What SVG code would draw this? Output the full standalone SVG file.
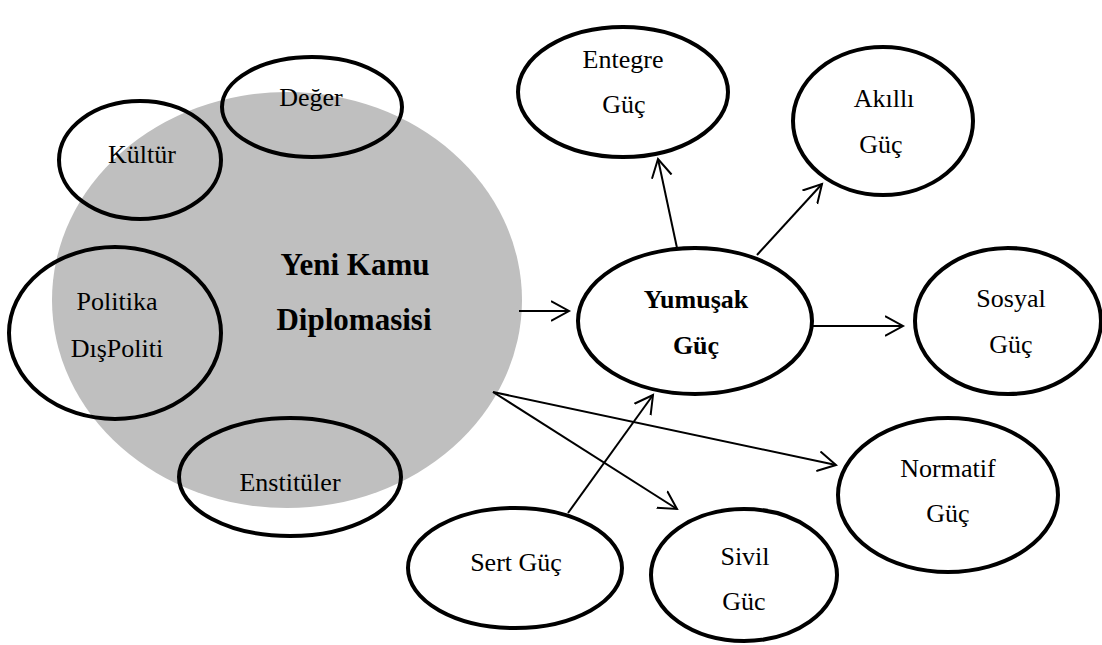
<svg xmlns="http://www.w3.org/2000/svg" width="1102" height="645" viewBox="0 0 1102 645">
<style>
.n{fill:none;stroke:#000;stroke-width:4}
.c line{stroke:#000;stroke-width:2;marker-end:url(#a)}
</style>
<defs>
<marker id="a" markerWidth="22" markerHeight="24" refX="18" refY="11" orient="auto" markerUnits="userSpaceOnUse">
<path d="M0,1 L18,11 L0,21" fill="none" stroke="#000" stroke-width="2"/>
</marker>
</defs>
<rect width="1102" height="645" fill="#fff"/>
<g font-family="Liberation Serif, Times New Roman, serif" font-size="26" text-anchor="middle" fill="#000">
<g id="yeni-kamu">
<ellipse cx="287" cy="300" rx="235" ry="208" fill="#bfbfbf"/>
<text x="355" y="275" font-size="31" font-weight="bold">Yeni Kamu</text>
<text x="354" y="330" font-size="31" font-weight="bold">Diplomasisi</text>
</g>
<g id="kultur">
<ellipse class="n" cx="140" cy="160" rx="81" ry="59"/>
<text x="142" y="163">Kültür</text>
</g>
<g id="deger">
<ellipse class="n" cx="312" cy="107" rx="90" ry="50"/>
<text x="311" y="106">Değer</text>
</g>
<g id="politika">
<ellipse class="n" cx="115" cy="333" rx="106" ry="86"/>
<text x="117" y="310">Politika</text>
<text x="117" y="357">DışPoliti</text>
</g>
<g id="enstituler">
<ellipse class="n" cx="290" cy="477" rx="111" ry="59"/>
<text x="290" y="491">Enstitüler</text>
</g>
<g id="yumusak">
<ellipse class="n" cx="695" cy="321" rx="117" ry="73"/>
<text x="696" y="308" font-weight="bold">Yumuşak</text>
<text x="696" y="354" font-weight="bold">Güç</text>
</g>
<g id="entegre">
<ellipse class="n" cx="623" cy="92" rx="105" ry="65"/>
<text x="623" y="68">Entegre</text>
<text x="624" y="113">Güç</text>
</g>
<g id="akilli">
<ellipse class="n" cx="883" cy="121" rx="90" ry="74"/>
<text x="884" y="107">Akıllı</text>
<text x="881" y="153">Güç</text>
</g>
<g id="sosyal">
<ellipse class="n" cx="1008" cy="321" rx="93" ry="73"/>
<text x="1011" y="307">Sosyal</text>
<text x="1011" y="353">Güç</text>
</g>
<g id="normatif">
<ellipse class="n" cx="948" cy="495" rx="110" ry="77"/>
<text x="948" y="477">Normatif</text>
<text x="948" y="522">Güç</text>
</g>
<g id="sivil">
<ellipse class="n" cx="744" cy="575" rx="93" ry="66"/>
<text x="745" y="565">Sivil</text>
<text x="744" y="610">Güc</text>
</g>
<g id="sert">
<ellipse class="n" cx="515" cy="568" rx="107" ry="60"/>
<text x="516" y="571">Sert Güç</text>
</g>
</g>
<g id="connectors" class="c">
<line x1="519" y1="311" x2="569" y2="311"/>
<line x1="677" y1="248" x2="658" y2="159"/>
<line x1="757" y1="255" x2="822" y2="184"/>
<line x1="812" y1="326" x2="903" y2="326"/>
<line x1="493" y1="392" x2="836" y2="465"/>
<line x1="493" y1="392" x2="677" y2="509"/>
<line x1="568" y1="513" x2="653" y2="395"/>
</g>
</svg>
